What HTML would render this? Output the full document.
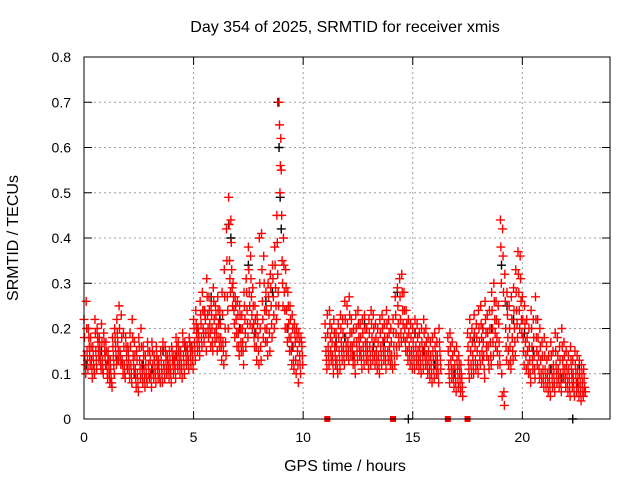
<!DOCTYPE html>
<html><head><meta charset="utf-8"><style>
body{margin:0;background:#fff;}
svg{display:block;font-family:"Liberation Sans",sans-serif;}
</style></head><body>
<svg id="chart" width="640" height="480">
<rect width="640" height="480" fill="#fff"/>
<text x="345" y="32" font-size="16" text-anchor="middle">Day 354 of 2025, SRMTID for receiver xmis</text>
<text x="345" y="471" font-size="16" text-anchor="middle">GPS time / hours</text>
<text x="18" y="238" font-size="16" text-anchor="middle" transform="rotate(-90 18 238)">SRMTID / TECUs</text>
<g id="grid"></g>
<g id="axes"></g>
<g id="black"></g>
<g id="red"></g>
<rect x="84" y="57" width="526" height="362" fill="none" stroke="#000" stroke-width="1"/>
</svg>
<script>
const xTicks=[0,5,10,15,20];
const yTicks=[0,0.1,0.2,0.3,0.4,0.5,0.6,0.7,0.8];
const yTickLabels=["0","0.1","0.2","0.3","0.4","0.5","0.6","0.7","0.8"];
const seg1Start=0.0;
const seg1A=[22,26,20,18,16,22,20,18,21,19,17,15,13,18,20,22,25,23,19,18,16,19,22,17,15,18,20,16,14,17,15,17,14,16,13,15,17,16,14,15,16,14,18,17,15,19,17,16,18,16,22,24,20,26,28,24,31,27,25,29,25,27,24,28,33,42,49,44,30,27,26,25,23,28,31,38,36,29,25,23,40,41,36,28,30,32,34,38,45,70,55,40,33,28,25,23,21,20,19,18];
const seg1D=[18,20,18,16,14,19,18,16,17,17,15,13,11,16,18,19,20,18,16,16,15,16,18,14,13,16,16,14,12,15,13,15,13,14,12,13,15,15,13,13,15,13,16,15,14,17,16,15,17,16,20,21,19,23,24,23,27,24,23,26,23,24,21,23,27,35,43,39,27,25,23,23,20,25,28,33,31,25,22,21,30,33,30,24,27,29,31,34,39,65,45,34,29,25,22,20,19,18,17,17];
const seg1B=[14,15,16,13,12,15,17,14,13,15,12,11,9,14,16,17,15,13,12,14,13,12,14,11,10,13,12,11,10,12,10,12,11,12,10,11,12,13,12,11,13,12,14,13,12,14,15,14,16,15,17,19,18,21,20,22,23,21,20,22,20,21,18,17,20,27,35,33,24,22,19,20,17,22,24,28,27,21,19,18,20,26,24,20,23,25,27,29,32,50,35,28,24,21,18,16,17,15,14,16];
const seg1E=[12,13,14,11,11,13,15,12,11,14,10,10,8,12,14,15,14,12,10,12,11,10,12,9,8,11,10,9,9,10,9,10,10,11,9,10,11,11,11,10,12,11,12,12,11,12,13,13,14,13,15,17,16,18,19,19,20,19,17,19,18,18,16,15,17,24,31,29,21,19,16,17,15,19,21,25,23,18,16,15,16,22,20,17,19,21,23,25,28,56,30,24,20,18,15,13,13,12,12,14];
const seg1C=[10,11,12,9,10,11,13,11,10,12,9,8,7,10,12,13,12,10,9,11,9,8,10,7,6,9,8,7,8,9,7,9,8,9,8,8,9,10,9,8,10,9,11,10,9,10,12,11,12,11,13,15,14,16,17,15,18,16,15,17,15,16,13,12,14,20,28,25,18,16,14,15,12,16,18,21,20,16,13,12,13,18,17,14,15,18,20,22,25,62,25,20,17,15,12,11,10,8,10,12];
const seg2Start=11.0;
const seg2A=[21,23,24,20,22,19,21,23,22,26,25,27,22,20,23,24,21,22,23,20,22,24,23,21,20,22,23,21,24,22,20,22,27,29,31,32,28,24,22,21,20,22,21,19,20,22,20,18,17,18,19,17,20,null,null,null,18,19,17,15,16,14,12,null,null,19,22,20,23,21,24,25,20,26,23,24,28,30,26,25,44,42,32,28,25,27,29,33,37,36,27,25,22,20,24,22,27,22,20,17,18,16,14,17,15,19,18,16,20,17,15,14,16,13,15,14,13,12,11];
const seg2D=[18,19,21,17,19,16,18,20,19,22,21,23,19,17,20,21,18,19,20,17,19,21,20,18,17,19,20,18,21,19,17,19,23,25,27,28,24,21,19,18,17,19,18,16,17,19,17,15,14,15,16,14,17,null,null,null,15,16,14,12,13,12,10,null,null,16,18,17,19,18,20,21,17,22,19,20,24,26,22,21,38,36,26,23,20,22,24,28,32,31,22,21,18,16,20,18,22,18,16,14,14,13,11,14,12,15,14,13,16,14,12,11,13,10,12,11,10,10,9];
const seg2B=[15,16,18,14,16,13,15,17,16,18,17,19,16,14,17,18,15,16,17,15,16,18,17,15,14,16,17,15,18,16,14,16,19,21,22,24,20,18,16,15,15,16,15,14,15,16,14,13,12,13,14,12,15,null,null,null,12,13,11,10,11,10,9,null,null,13,15,14,16,15,17,18,14,19,16,17,20,22,18,17,30,28,20,18,16,18,20,24,28,26,18,17,15,13,16,14,18,14,13,11,11,10,9,11,10,12,11,10,13,11,10,9,11,8,10,9,8,8,7];
const seg2E=[13,14,15,12,14,11,13,15,14,16,15,16,14,12,15,16,13,14,15,13,14,15,14,13,12,14,15,13,15,14,12,14,16,18,19,21,17,15,14,13,13,14,13,12,13,14,12,11,10,11,12,10,13,null,null,null,10,11,9,8,9,8,7,null,null,11,12,12,13,12,14,15,11,16,13,14,17,19,15,14,10,6,16,15,13,15,17,21,24,22,15,14,12,10,13,11,15,11,10,9,9,8,7,9,8,10,9,8,11,9,8,7,9,6,8,7,6,6,6];
const seg2C=[11,12,13,10,12,10,11,13,12,14,13,14,12,10,13,14,11,12,13,11,12,13,12,11,10,12,13,11,13,12,11,12,14,16,17,18,15,13,12,11,11,12,11,10,11,12,10,9,8,9,10,8,11,null,null,null,8,9,7,6,7,6,5,null,null,9,10,10,11,10,12,13,9,14,11,12,14,16,12,12,5,3,13,12,11,13,14,18,20,19,12,11,10,8,11,9,12,9,8,7,7,6,5,7,6,8,7,6,9,7,6,5,7,5,6,5,4,5,6];
const blackT=[0.1,0.8,1.5,2.3,3.1,4.2,5.2,5.8,6.6,6.7,7.5,8.3,8.85,8.9,8.95,9.0,9.3,11.5,12.3,13.2,14.3,14.8,15.5,17.8,18.6,19.05,19.3,20.1,21.3,22.3,22.5,1.1,2.7,3.6,4.6,5.5,6.2,7.1,7.8,8.6,9.5,11.9,12.8,13.7,15.1,16.0,16.9,18.2,19.6,20.5,21.8,22.6];
const blackV=[0.12,0.15,0.13,0.1,0.11,0.14,0.2,0.27,0.43,0.4,0.34,0.26,0.7,0.6,0.49,0.42,0.2,0.17,0.14,0.16,0.28,0.0,0.15,0.18,0.2,0.34,0.25,0.19,0.11,0.0,0.08,0.13,0.12,0.15,0.16,0.24,0.22,0.2,0.19,0.28,0.16,0.18,0.21,0.17,0.19,0.12,0.1,0.2,0.22,0.15,0.09,0.12];
const zeroT=[11.1,14.1,16.6,17.5];
const zeroV=[0,0,0,0];

const NS='http://www.w3.org/2000/svg';
const X0=84,X1=610,Y0=419,Y1=57;
const sx=t=>X0+(t/24)*(X1-X0);
const sy=v=>Y0-(v/0.8)*(Y0-Y1);
const grid=document.getElementById('grid'),axes=document.getElementById('axes');
function mk(tag,attrs,parent){const e=document.createElementNS(NS,tag);for(const k in attrs)e.setAttribute(k,attrs[k]);parent.appendChild(e);return e;}
yTicks.forEach((v,i)=>{
  const y=sy(v);
  if(i>0&&i<yTicks.length-1){const g=mk('line',{x1:X0,x2:X1,y1:y,y2:y,stroke:'#a0a0a0','stroke-dasharray':'2,3'},grid);
  
  }
  const t1=mk('line',{x1:X0,x2:X0+8,y1:y,y2:y,stroke:'#000'},axes);
  
  
  const t2=mk('line',{x1:X1-8,x2:X1,y1:y,y2:y,stroke:'#000'},axes);
  
  
  const l=mk('text',{x:X0-13,y:y+5,'font-size':14,'text-anchor':'end'},axes);l.textContent=yTickLabels[i];
  
  
});
xTicks.forEach(t=>{
  const x=sx(t);
  if(t>0){const g=mk('line',{x1:x,x2:x,y1:Y1,y2:Y0,stroke:'#a0a0a0','stroke-dasharray':'2,3'},grid);
  
  }
  const t1=mk('line',{x1:x,x2:x,y1:Y0,y2:Y0-8,stroke:'#000'},axes);
  
  
  const t2=mk('line',{x1:x,x2:x,y1:Y1,y2:Y1+8,stroke:'#000'},axes);
  
  
  const l=mk('text',{x:x,y:Y0+23,'font-size':14,'text-anchor':'middle'},axes);l.textContent=String(t);
  
  
});
function cross(t,v,color,parent){
  const x=sx(t),y=sy(v);
  const p=mk('path',{d:`M${x-4.5},${y}H${x+4.5}M${x},${y-4.5}V${y+4.5}`,stroke:color,'stroke-width':1.4,fill:'none'},parent);
  
  
}
const black=document.getElementById('black'),red=document.getElementById('red');
blackT.forEach((t,i)=>cross(t,blackV[i],'#000',black));
const offs=[0,0.04,0.08,0.02,0.06];
function drawSeg(start,arrs){
  arrs.forEach((arr,k)=>arr.forEach((v,i)=>{if(v!==null)cross(start+i*0.1+offs[k],v/100,'#ff0000',red);}));
}
drawSeg(seg1Start,[seg1A,seg1B,seg1C,seg1D,seg1E]);
drawSeg(seg2Start,[seg2A,seg2B,seg2C,seg2D,seg2E]);
zeroT.forEach((t,i)=>{
  const r=mk('rect',{x:sx(t)-3,y:sy(zeroV[i])-3,width:6,height:6,fill:'#ff0000'},red);
  
  
});
</script>
</body></html>
